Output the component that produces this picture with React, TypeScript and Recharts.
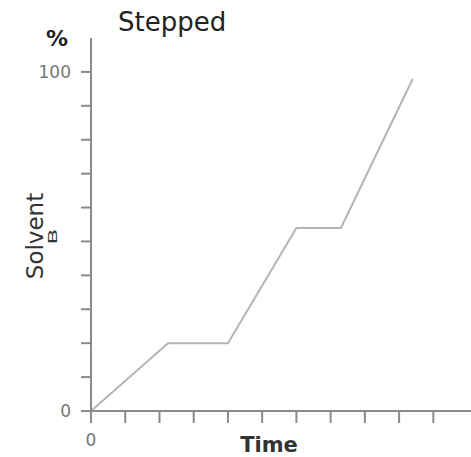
import React from 'react';
import { LineChart, Line, XAxis, YAxis } from 'recharts';

const times = [0, 2.25, 4, 6, 7.3, 9.4];
const solventB = [0, 20, 20, 54, 54, 98];
const xTicks = [0, 1, 2, 3, 4, 5, 6, 7, 8, 9, 10];
const yTicks = [0, 10, 20, 30, 40, 50, 60, 70, 80, 90, 100];
const xLabels: Record<number, string> = { 0: '0' };
const yLabels: Record<number, string> = { 0: '0', 100: '100' };

const data = times.map((t, i) => ({ time: t, b: solventB[i] }));

const FONT = '"DejaVu Sans", Verdana, sans-serif';
const AXIS = '#8a8a8a';

export default function App() {
  return (
    <div style={{ position: 'absolute', left: 0, top: 0, width: 471, height: 457, background: '#fff' }}>
      <LineChart width={471} height={457} data={data} margin={{ top: 38, right: 0, bottom: 0, left: 0 }}>
        <XAxis
          type="number"
          dataKey="time"
          domain={[0, 11.1]}
          ticks={xTicks}
          tickFormatter={(v: number) => xLabels[v] ?? ''}
          height={46}
          tickSize={12}
          tickMargin={11}
          stroke={AXIS}
          strokeWidth={2}
          tick={{ fill: '#777', fontSize: 17, fontFamily: FONT }}
          allowDataOverflow
        />
        <YAxis
          type="number"
          domain={[0, 110]}
          ticks={yTicks}
          tickFormatter={(v: number) => yLabels[v] ?? ''}
          width={91}
          tickSize={10}
          tickMargin={10}
          stroke={AXIS}
          strokeWidth={2}
          tick={{ fill: '#777', fontSize: 17, fontFamily: FONT }}
          interval={0}
        />
        <Line
          type="linear"
          dataKey="b"
          stroke="#b4b4b4"
          strokeWidth={2}
          dot={false}
          isAnimationActive={false}
        />
      </LineChart>
      <svg width={471} height={457} style={{ position: 'absolute', left: 0, top: 0, pointerEvents: 'none' }}>
        <text x={118} y={31} fontSize={26} fill="#222" fontFamily={FONT}>Stepped</text>
        <text x={57} y={46} fontSize={22} fontWeight="bold" fill="#222" textAnchor="middle" fontFamily={FONT}>%</text>
        <text x={269} y={452} fontSize={21} fontWeight="bold" fill="#333" textAnchor="middle" fontFamily={FONT}>Time</text>
        <text transform="translate(42.5,236) rotate(-90)" fontSize={23} fill="#333" textAnchor="middle" fontFamily={FONT}>Solvent</text>
        <text transform="translate(56.5,236.5) rotate(-90) scale(1.05,0.55)" fontSize={22} fill="#333" textAnchor="middle" fontFamily={FONT}>B</text>
      </svg>
    </div>
  );
}
